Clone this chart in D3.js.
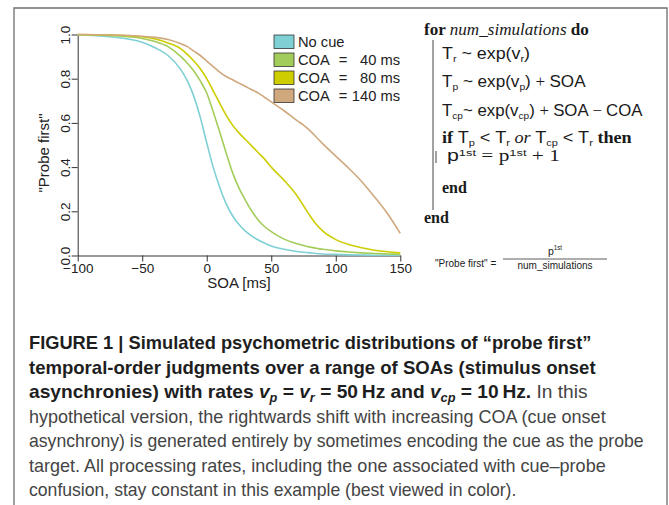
<!DOCTYPE html>
<html><head><meta charset="utf-8">
<script src="https://cdn.jsdelivr.net/npm/d3@7"></script>
<style>
html,body{margin:0;padding:0;background:#fff;}
svg{display:block;}
</style></head>
<body>
<svg id="chart" width="669" height="505"></svg>
<script>
// ---------- data ----------
const soa = [-100,-75,-50,-40,-30,-20,-15,-10,-5,0,5,10,15,20,25,30,35,40,45,50,60,70,75,80,85,90,100,110,120,130,140,150];
const noCue  = [0.998,0.99,0.965,0.94,0.905,0.84,0.79,0.72,0.625,0.51,0.40,0.31,0.235,0.18,0.14,0.11,0.088,0.07,0.055,0.043,0.028,0.018,0.015,0.012,0.009,0.007,0.005,0.003,0.002,0.001,0.001,0.001];
const coa40  = [0.999,0.995,0.982,0.968,0.945,0.90,0.87,0.835,0.79,0.735,0.65,0.56,0.465,0.375,0.305,0.25,0.20,0.16,0.13,0.108,0.074,0.053,0.045,0.038,0.033,0.028,0.021,0.016,0.012,0.009,0.007,0.005];
const coa80  = [1.0,0.998,0.99,0.98,0.962,0.935,0.91,0.88,0.845,0.80,0.745,0.69,0.635,0.59,0.555,0.525,0.495,0.465,0.435,0.40,0.34,0.27,0.225,0.18,0.14,0.11,0.072,0.05,0.035,0.024,0.017,0.012];
const coa140 = [1.0,0.998,0.992,0.987,0.977,0.958,0.945,0.925,0.905,0.88,0.855,0.83,0.81,0.795,0.78,0.765,0.75,0.735,0.715,0.695,0.655,0.61,0.59,0.565,0.535,0.505,0.45,0.395,0.335,0.265,0.19,0.10];
const seriesValues = [noCue, coa40, coa80, coa140];
const seriesColors = ["#7fd0d4","#a2cd5a","#cdcd00","#cfa87e"];
const legendLabels = ["No cue","COA","COA","COA"];
const legendValues = ["","40 ms","80 ms","140 ms"];
const xTicks = [-100,-50,0,50,100,150];
const yTicks = [0,0.2,0.4,0.6,0.8,1.0];
const xLabel = "SOA [ms]";
const yLabel = "\"Probe first\"";

const svg = d3.select("#chart");
svg.append("rect").attr("width",669).attr("height",505).attr("fill","#fff");

// frame
svg.append("path").attr("d","M14,505 V8 H667 V505").attr("fill","none").attr("stroke","#6e6e6e").attr("stroke-width",1.3);

const x = d3.scaleLinear().domain([-100,150]).range([77.7,400.3]);
const y = d3.scaleLinear().domain([0,1]).range([255.5,34.5]);
const SANS = "'Liberation Sans', Arial, Helvetica, sans-serif";
const SERIF = "'Liberation Serif', 'DejaVu Serif', serif";

// axes
const gx = svg.append("g").attr("transform",`translate(0,${y(0)})`)
  .call(d3.axisBottom(x).tickValues(xTicks).tickSize(6).tickSizeOuter(0)
    .tickFormat(d => (d<0?"\u2212":"")+Math.abs(d)));
gx.selectAll("text").attr("font-family",SANS).attr("font-size",13.5).attr("fill","#222").attr("y",8);
gx.selectAll("line,path").attr("stroke","#333");

const gy = svg.append("g").attr("transform",`translate(${x(-100)},0)`)
  .call(d3.axisLeft(y).tickValues(yTicks).tickSize(6).tickSizeOuter(0).tickFormat(d3.format(".1f")));
gy.selectAll("text").attr("font-family",SANS).attr("font-size",13.5).attr("fill","#222")
  .attr("x",null).attr("dy",null).attr("text-anchor","middle").attr("transform","translate(-8,0) rotate(-90)");
gy.selectAll("line,path").attr("stroke","#333");
svg.selectAll(".domain").attr("stroke-width",1);

svg.append("text").attr("x",(x(-100)+x(150))/2).attr("y",288).attr("text-anchor","middle")
  .attr("font-family",SANS).attr("font-size",15).attr("fill","#222").text(xLabel);
svg.append("text").attr("transform",`translate(49,${(y(0)+y(1))/2+8}) rotate(-90)`).attr("text-anchor","middle")
  .attr("font-family",SANS).attr("font-size",15).attr("fill","#222").text(yLabel);

// curves
const line = d3.line().x((d,i)=>x(soa[i])).y(d=>y(d)).curve(d3.curveMonotoneX);
seriesValues.forEach((vals,k)=>{
  svg.append("path").attr("d",line(vals)).attr("fill","none").attr("stroke",seriesColors[k]).attr("stroke-width",1.6);
});

// legend
legendLabels.forEach((lab,k)=>{
  const top = 35 + k*18;
  svg.append("rect").attr("x",274).attr("y",top).attr("width",20).attr("height",13.5)
    .attr("fill",seriesColors[k]).attr("stroke","#333").attr("stroke-width",0.8);
  svg.append("text").attr("x",298).attr("y",top+12).attr("font-family",SANS).attr("font-size",14.7).attr("fill","#222").text(lab);
  if (legendValues[k]) {
    svg.append("text").attr("x",343).attr("y",top+12).attr("text-anchor","middle").attr("font-family",SANS).attr("font-size",14.7).attr("fill","#222").text("=");
    svg.append("text").attr("x",400).attr("y",top+12).attr("text-anchor","end").attr("font-family",SANS).attr("font-size",14.7).attr("fill","#222").text(legendValues[k]);
  }
});

// ---------- algorithm box ----------
function fit(sel, x0, right){
  const w = sel.node().getBBox().width;
  const k = (right - x0)/w;
  if (k>0.6 && k<1.6) sel.attr("transform",`translate(${x0},0) scale(${k},1) translate(${-x0},0)`);
}
const A = svg.append("g").attr("fill","#1a1a1a");
function addRich(g, x0, yb, parts, size){
  const t = g.append("text").attr("x",x0).attr("y",yb).attr("font-size",size).attr("font-family",SANS);
  parts.forEach(p=>{
    const s = t.append("tspan").text(p.t);
    if (p.f) s.attr("font-family",p.f);
    if (p.w) s.attr("font-weight",p.w);
    if (p.i) s.attr("font-style","italic");
    if (p.sub) s.attr("font-size",size*0.6).attr("dy",3);
    if (p.sup) s.attr("font-size",size*0.6).attr("dy",-5.5);
    if (p.back) s.attr("dy",p.back);
  });
  return t;
}
fit(addRich(A,424,35,[{t:"for ",f:SERIF,w:"bold"},{t:"num_simulations",f:SERIF,i:1},{t:" do",f:SERIF,w:"bold"}],16),424,589);
fit(addRich(A,442,59,[{t:"T"},{t:"r",sub:1},{t:" ~ exp(v",back:-3},{t:"r",sub:1},{t:")",back:-3}],16),442,530);
fit(addRich(A,442,87.5,[{t:"T"},{t:"p",sub:1},{t:" ~ exp(v",back:-3},{t:"p",sub:1},{t:") ",back:-3},{t:"+ ",f:SERIF},{t:"SOA"}],16),442,586);
fit(addRich(A,442,116,[{t:"T"},{t:"cp",sub:1},{t:"~ exp(v",back:-3},{t:"cp",sub:1},{t:") ",back:-3},{t:"+ ",f:SERIF},{t:"SOA "},{t:"\u2212 ",f:SERIF},{t:"COA"}],16),442,643);
fit(addRich(A,442,143.5,[{t:"if ",f:SERIF,w:"bold"},{t:"T"},{t:"p",sub:1},{t:" < T",back:-3},{t:"r",sub:1},{t:" or ",f:SERIF,i:1,back:-3},{t:"T"},{t:"cp",sub:1},{t:" < T",back:-3},{t:"r",sub:1},{t:" then",f:SERIF,w:"bold",back:-3}],16),442,632);
fit(addRich(A,447,161.5,[{t:"p"},{t:"1st",sup:1},{t:" = p",f:SERIF,back:5.5},{t:"1st",sup:1},{t:" + 1",f:SERIF,back:5.5}],16),447,560);
A.append("text").attr("x",442).attr("y",193).attr("font-family",SERIF).attr("font-weight","bold").attr("font-size",16).text("end");
A.append("text").attr("x",424).attr("y",223).attr("font-family",SERIF).attr("font-weight","bold").attr("font-size",16).text("end");
A.append("line").attr("x1",433).attr("x2",433).attr("y1",40).attr("y2",210).attr("stroke","#444").attr("stroke-width",1);
A.append("line").attr("x1",436).attr("x2",436).attr("y1",151).attr("y2",163).attr("stroke","#444").attr("stroke-width",1);
// formula
A.append("text").attr("x",435).attr("y",267).attr("font-family",SANS).attr("font-size",10).text("\"Probe first\" =");
addRich(A,555,255,[{t:"p"},{t:"1st",sup:1}],10.5).attr("text-anchor","middle");
A.append("line").attr("x1",503).attr("x2",607).attr("y1",259).attr("y2",259).attr("stroke","#333").attr("stroke-width",0.8);
A.append("text").attr("x",555).attr("y",269).attr("text-anchor","middle").attr("font-family",SANS).attr("font-size",10).text("num_simulations");

// ---------- caption ----------
const CAP = "'Liberation Sans Narrow', 'Arial Narrow', 'Liberation Sans', Arial, sans-serif";
const C = svg.append("g");
const capLines = [
  {y:349.5, right:592, parts:[{t:"FIGURE 1 | Simulated psychometric distributions of \u201Cprobe first\u201D",w:"bold"}]},
  {y:374, right:596, parts:[{t:"temporal-order judgments over a range of SOAs (stimulus onset",w:"bold"}]},
  {y:398.5, right:588, parts:[{t:"asynchronies) with rates ",w:"bold"},{t:"v",w:"bold",i:1},{t:"p",w:"bold",i:1,sub:1},{t:" = ",w:"bold",back:-4},{t:"v",w:"bold",i:1},{t:"r",w:"bold",i:1,sub:1},{t:" = 50\u2009Hz and ",w:"bold",back:-4},{t:"v",w:"bold",i:1},{t:"cp",w:"bold",i:1,sub:1},{t:" = 10\u2009Hz.",w:"bold",back:-4},{t:" In this"}]},
  {y:423, right:606, parts:[{t:"hypothetical version, the rightwards shift with increasing COA (cue onset"}]},
  {y:447.5, right:644, parts:[{t:"asynchrony) is generated entirely by sometimes encoding the cue as the probe"}]},
  {y:472, right:606, parts:[{t:"target. All processing rates, including the one associated with cue\u2013probe"}]},
  {y:496.5, right:null, parts:[{t:"confusion, stay constant in this example (best viewed in color)."}]}
];
let regK = 1;
capLines.forEach((L,idx)=>{
  const t = C.append("text").attr("x",29).attr("y",L.y).attr("font-family",CAP).attr("font-size",18).attr("fill","#444");
  L.parts.forEach(p=>{
    const s = t.append("tspan").text(p.t);
    if (p.w){ s.attr("font-weight",p.w).attr("fill","#1e1e1e"); }
    if (p.i) s.attr("font-style","italic");
    if (p.sub) s.attr("font-size",12).attr("dy",4);
    if (p.back) s.attr("dy",p.back);
  });
  const w = t.node().getBBox().width;
  let k = L.right ? (L.right-29)/w : regK;
  if (idx===4) regK = k;
  if (k>0.6 && k<1.6) t.attr("transform",`translate(29,0) scale(${k},1) translate(-29,0)`);
});
</script>
</body></html>
